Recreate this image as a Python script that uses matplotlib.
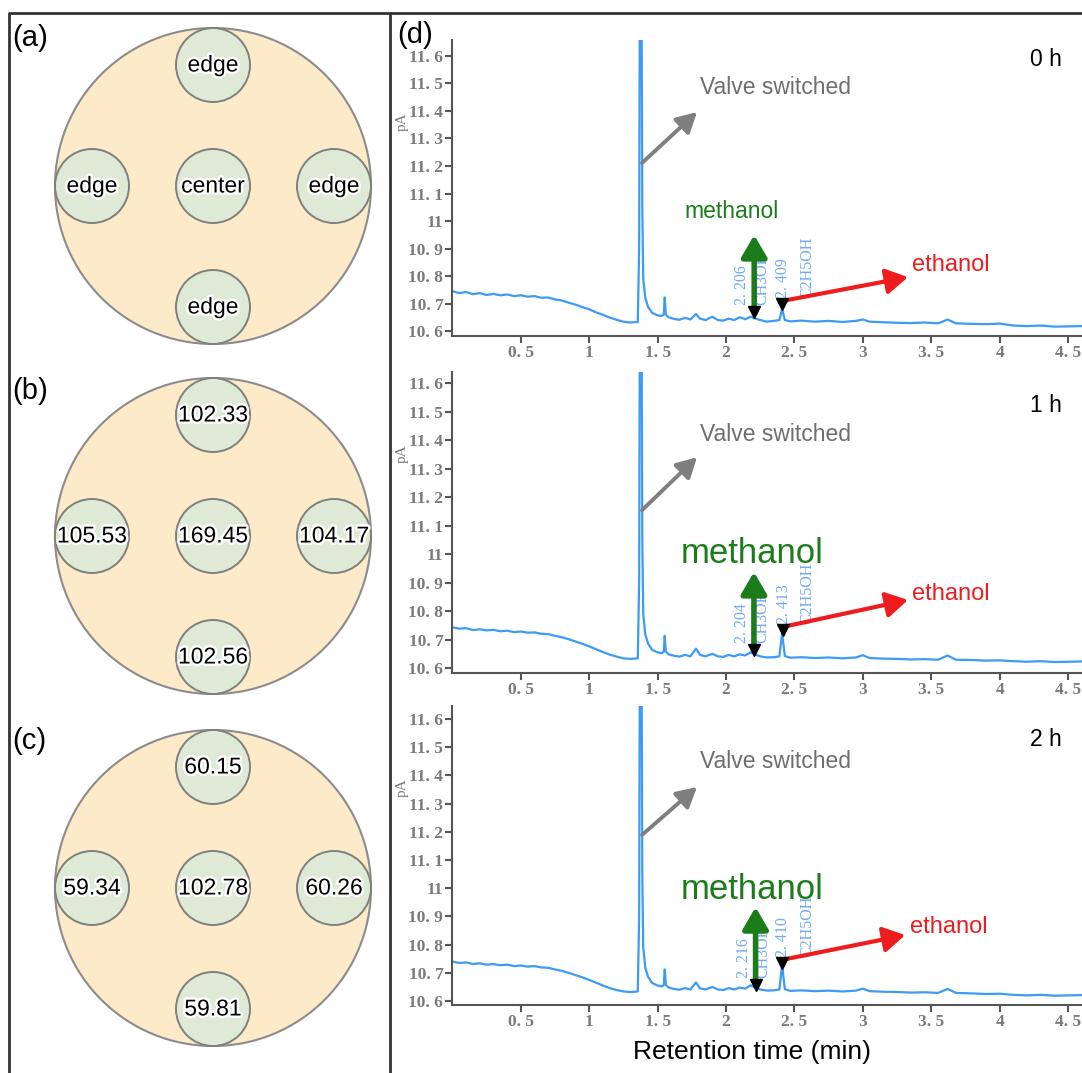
import matplotlib
matplotlib.use("Agg")
import matplotlib.pyplot as plt
import matplotlib.patheffects as pe
import numpy as np
from matplotlib.patches import Circle
from matplotlib.ticker import FuncFormatter

# ---- data ---------------------------------------------------------------
SPOT_LABELS_A = ["edge", "edge", "center", "edge", "edge"]  # top, left, center, right, bottom
SPOT_VALUES_B = [102.33, 105.53, 169.45, 104.17, 102.56]
SPOT_VALUES_C = [60.15, 59.34, 102.78, 60.26, 59.81]

HOURS = ["0 h", "1 h", "2 h"]
RT_MEOH = [2.206, 2.204, 2.216]
RT_ETOH = [2.409, 2.413, 2.410]

TIME = [
    0.00, 0.05, 0.10, 0.15, 0.20, 0.25, 0.30, 0.35, 0.40, 0.45,
    0.50, 0.55, 0.60, 0.65, 0.70, 0.75, 0.80, 0.85, 0.90, 0.95,
    1.00, 1.05, 1.10, 1.15, 1.20, 1.25, 1.30, 1.33, 1.355, 1.365,
    1.372, 1.380, 1.388, 1.395, 1.41, 1.43, 1.46, 1.50, 1.53, 1.545,
    1.552, 1.560, 1.58, 1.62, 1.66, 1.70, 1.74, 1.78, 1.81, 1.85,
    1.90, 1.94, 1.98, 2.02, 2.06, 2.10, 2.14, 2.18, 2.21, 2.25,
    2.30, 2.35, 2.39, 2.41, 2.43, 2.47, 2.55, 2.65, 2.75, 2.85,
    2.95, 3.00, 3.05, 3.15, 3.25, 3.35, 3.45, 3.55, 3.62, 3.68,
    3.80, 3.90, 4.00, 4.10, 4.20, 4.30, 4.40, 4.50, 4.60,
]
SIG_0H = [
    10.745, 10.738, 10.742, 10.734, 10.738, 10.731, 10.735, 10.730, 10.733, 10.727,
    10.730, 10.725, 10.727, 10.721, 10.722, 10.715, 10.711, 10.703, 10.696, 10.687,
    10.679, 10.668, 10.659, 10.649, 10.641, 10.634, 10.631, 10.632, 10.633, 10.900,
    12.200, 12.200, 11.050, 10.790, 10.720, 10.688, 10.666, 10.657, 10.655, 10.660,
    10.722, 10.660, 10.650, 10.644, 10.641, 10.648, 10.642, 10.662, 10.645, 10.640,
    10.652, 10.640, 10.638, 10.645, 10.640, 10.650, 10.643, 10.652, 10.646, 10.640,
    10.634, 10.637, 10.640, 10.680, 10.640, 10.635, 10.638, 10.634, 10.637, 10.633,
    10.637, 10.642, 10.634, 10.632, 10.630, 10.629, 10.631, 10.628, 10.642, 10.628,
    10.626, 10.625, 10.627, 10.620, 10.618, 10.620, 10.616, 10.617, 10.618,
]
SIG_1H = [
    10.743, 10.738, 10.740, 10.733, 10.736, 10.732, 10.734, 10.729, 10.731, 10.726,
    10.728, 10.724, 10.725, 10.720, 10.719, 10.713, 10.708, 10.701, 10.693, 10.685,
    10.676, 10.666, 10.656, 10.647, 10.640, 10.634, 10.632, 10.633, 10.634, 10.900,
    12.200, 12.200, 11.050, 10.790, 10.718, 10.686, 10.664, 10.655, 10.652, 10.657,
    10.713, 10.658, 10.648, 10.643, 10.640, 10.646, 10.641, 10.668, 10.646, 10.641,
    10.650, 10.641, 10.639, 10.646, 10.641, 10.648, 10.644, 10.655, 10.648, 10.641,
    10.637, 10.638, 10.641, 10.722, 10.642, 10.636, 10.638, 10.635, 10.637, 10.634,
    10.637, 10.645, 10.635, 10.633, 10.632, 10.630, 10.631, 10.629, 10.644, 10.629,
    10.628, 10.626, 10.627, 10.624, 10.622, 10.624, 10.621, 10.622, 10.623,
]
SIG_2H = [
    10.740, 10.735, 10.737, 10.731, 10.734, 10.729, 10.731, 10.727, 10.729, 10.724,
    10.726, 10.722, 10.724, 10.719, 10.718, 10.712, 10.707, 10.700, 10.692, 10.684,
    10.675, 10.665, 10.655, 10.646, 10.639, 10.634, 10.632, 10.633, 10.634, 10.900,
    12.200, 12.200, 11.050, 10.790, 10.718, 10.686, 10.664, 10.655, 10.652, 10.657,
    10.712, 10.658, 10.648, 10.643, 10.640, 10.646, 10.641, 10.666, 10.645, 10.641,
    10.650, 10.641, 10.639, 10.646, 10.641, 10.648, 10.644, 10.656, 10.648, 10.641,
    10.637, 10.638, 10.641, 10.728, 10.642, 10.636, 10.638, 10.635, 10.637, 10.634,
    10.637, 10.644, 10.635, 10.633, 10.632, 10.630, 10.631, 10.629, 10.643, 10.629,
    10.627, 10.625, 10.626, 10.622, 10.620, 10.622, 10.619, 10.620, 10.621,
]
SIGNALS = [SIG_0H, SIG_1H, SIG_2H]

# ---- layout (pixels) ----------------------------------------------------
W, H = 1082, 1073
DPI = 100
SANS = "Liberation Sans"
SERIF = "Liberation Serif"
LINE_BLUE = "#3d9af5"
LABEL_BLUE = "#72aaf0"

# panel top/bottom spine rows and matching y-limits
PANEL_ROWS = [(40, 336), (372, 673), (706, 1005)]
PANEL_YLIM = [(10.582, 11.658), (10.5825, 11.639), (10.586, 11.646)]
AX_LEFT, XMAX = 452.4, 4.602

# per-panel annotation geometry in data coordinates
VALVE_START = [(1.386, 11.211), (1.386, 11.154), (1.386, 11.189)]
VALVE_TIP = [(1.788, 11.396), (1.788, 11.340), (1.788, 11.359)]
VALVE_TEXT_Y = [11.487, 11.421, 11.451]
MEOH_MARK_Y = [10.669, 10.662, 10.657]
ETOH_MARK_Y = [10.698, 10.733, 10.735]
MEOH_TIP_Y = [10.949, 10.937, 10.933]
MEOH_TEXT = [(2.04, 11.033, 16.5), (2.19, 11.003, 25), (2.19, 10.994, 25)]
ETOH_TIP = [(3.33, 10.796), (3.33, 10.839), (3.31, 10.834)]
ETOH_TEXT = [(3.36, 10.840), (3.36, 10.860), (3.345, 10.862)]
HOUR_ROWS = [60, 405, 740]

DISK_CENTERS = [(213, 186), (213, 536), (213, 888)]
DISK_R, SPOT_R, SPOT_OFF = 158, 37, 121
SPOT_DIRS = [(0, -1), (-1, 0), (0, 0), (1, 0), (0, 1)]


def fx(px):
    return px / W


def fy(py):
    return 1 - py / H


def tick_fmt(v, _):
    return f"{v:g}".replace(".", ". ")


def rt_fmt(v):
    return f"{v:.3f}".replace(".", ". ")


fig = plt.figure(figsize=(W / DPI, H / DPI), dpi=DPI)

# background axes in pixel coordinates for frame and spot diagrams
bg = fig.add_axes([0, 0, 1, 1])
bg.set_xlim(0, W)
bg.set_ylim(H, 0)
bg.axis("off")
frame_kw = dict(color="#333333", lw=2, solid_capstyle="butt")
bg.plot([8, W], [13, 13], **frame_kw)
bg.plot([9, 9], [13, H], **frame_kw)
bg.plot([390, 390], [13, H], **frame_kw)

halo = [pe.withStroke(linewidth=3.5, foreground="white")]
spot_texts = [SPOT_LABELS_A,
              [f"{v:.2f}" for v in SPOT_VALUES_B],
              [f"{v:.2f}" for v in SPOT_VALUES_C]]
for (cx, cy), labels in zip(DISK_CENTERS, spot_texts):
    bg.add_patch(Circle((cx, cy), DISK_R, facecolor="#fdeac8",
                        edgecolor="#8c8c8c", lw=1.5))
    for (dx, dy), lab in zip(SPOT_DIRS, labels):
        sx, sy = cx + dx * SPOT_OFF, cy + dy * SPOT_OFF
        bg.add_patch(Circle((sx, sy), SPOT_R, facecolor="#dfead6",
                            edgecolor="#7f7f7f", lw=1.4))
        bg.text(sx, sy, lab, ha="center", va="center", fontsize=16.5,
                family=SANS, color="black", path_effects=halo)

for lab, (px, py) in zip(["(a)", "(b)", "(c)", "(d)"],
                         [(12, 38), (12, 391), (12, 741), (397, 35)]):
    fig.text(fx(px), fy(py), lab, ha="left", va="center", fontsize=21,
             family=SANS)

# ---- chromatograms ------------------------------------------------------
arrow_base = dict(shrinkA=0, shrinkB=0)
for i, sig in enumerate(SIGNALS):
    top, bot = PANEL_ROWS[i]
    ax = fig.add_axes([fx(AX_LEFT), fy(bot), 1 - fx(AX_LEFT), (bot - top) / H])
    ax.patch.set_alpha(0)
    ax.plot(TIME, sig, color=LINE_BLUE, lw=1.6, zorder=2)
    ax.set_xlim(0, XMAX)
    ax.set_ylim(*PANEL_YLIM[i])
    ax.set_xticks(np.arange(0.5, 4.6, 0.5))
    ax.set_yticks(np.round(np.arange(10.6, 11.65, 0.1), 1))
    ax.xaxis.set_major_formatter(FuncFormatter(tick_fmt))
    ax.yaxis.set_major_formatter(FuncFormatter(tick_fmt))
    for side in ("top", "right"):
        ax.spines[side].set_visible(False)
    for side in ("left", "bottom"):
        ax.spines[side].set_color("#555555")
        ax.spines[side].set_linewidth(1.5)
    ax.tick_params(direction="out", length=5, width=1.5, color="#555555",
                   labelcolor="#7a7a7a", labelsize=12.5, pad=1.5)
    for t in ax.get_xticklabels() + ax.get_yticklabels():
        t.set_family(SERIF)
        t.set_fontweight("bold")

    fig.text(fx(402), fy(top + 82), "pA", rotation=90, ha="center",
             va="center", fontsize=11, family=SERIF, color="#7a7a7a")
    fig.text(fx(1046), fy(HOUR_ROWS[i]), HOURS[i], ha="center", va="center",
             fontsize=16.5, family=SANS)

    # valve switch marker
    ax.annotate("", xy=VALVE_TIP[i], xytext=VALVE_START[i],
                arrowprops=dict(arrowstyle="-|>,head_length=0.55,head_width=0.3",
                                color="#7f7f7f", lw=2.8, mutation_scale=22,
                                **arrow_base), zorder=4)
    ax.text(1.81, VALVE_TEXT_Y[i], "Valve switched", ha="left", va="center",
            fontsize=16.5, family=SANS, color="#6e6e6e")

    # peak labels from the integrator
    rt_m, rt_e = RT_MEOH[i], RT_ETOH[i]
    ax.plot([rt_m, rt_e], [MEOH_MARK_Y[i], ETOH_MARK_Y[i]], "v",
            color="black", ms=8, zorder=5)
    lab_kw = dict(rotation=90, ha="center", va="bottom", fontsize=11.5,
                  family=SERIF, color=LABEL_BLUE, textcoords="offset pixels",
                  zorder=3)
    ax.annotate(rt_fmt(rt_m), (rt_m, MEOH_MARK_Y[i] + 0.025),
                xytext=(-12, 0), **lab_kw)
    ax.annotate("CH3OH", (rt_m, MEOH_MARK_Y[i] + 0.025), xytext=(8, 0), **lab_kw)
    ax.annotate(rt_fmt(rt_e), (rt_e, ETOH_MARK_Y[i] + 0.022),
                xytext=(1, 0), **lab_kw)
    ax.annotate("C2H5OH", (rt_e, ETOH_MARK_Y[i] + 0.022), xytext=(25, 0), **lab_kw)

    # methanol arrow
    ax.annotate("", xy=(rt_m, MEOH_TIP_Y[i]), xytext=(rt_m, MEOH_MARK_Y[i] + 0.005),
                arrowprops=dict(arrowstyle="-|>,head_length=0.6,head_width=0.35",
                                color="#1c7c1c", lw=4, mutation_scale=22,
                                **arrow_base), zorder=4)
    mx, my, msize = MEOH_TEXT[i]
    ax.text(mx, my, "methanol", ha="center", va="center", fontsize=msize,
            family=SANS, color="#1c7c1c")

    # ethanol arrow
    ax.annotate("", xy=ETOH_TIP[i], xytext=(rt_e + 0.01, ETOH_MARK_Y[i] + 0.012),
                arrowprops=dict(arrowstyle="-|>,head_length=0.6,head_width=0.35",
                                color="#ee1c1c", lw=3, mutation_scale=22,
                                **arrow_base), zorder=4)
    ex, ey = ETOH_TEXT[i]
    ax.text(ex, ey, "ethanol", ha="left", va="center", fontsize=17,
            family=SANS, color="#ee1c1c")

fig.text(fx(752), fy(1052), "Retention time (min)", ha="center", va="center",
         fontsize=19, family=SANS)

fig.savefig("out.png", dpi=DPI)
